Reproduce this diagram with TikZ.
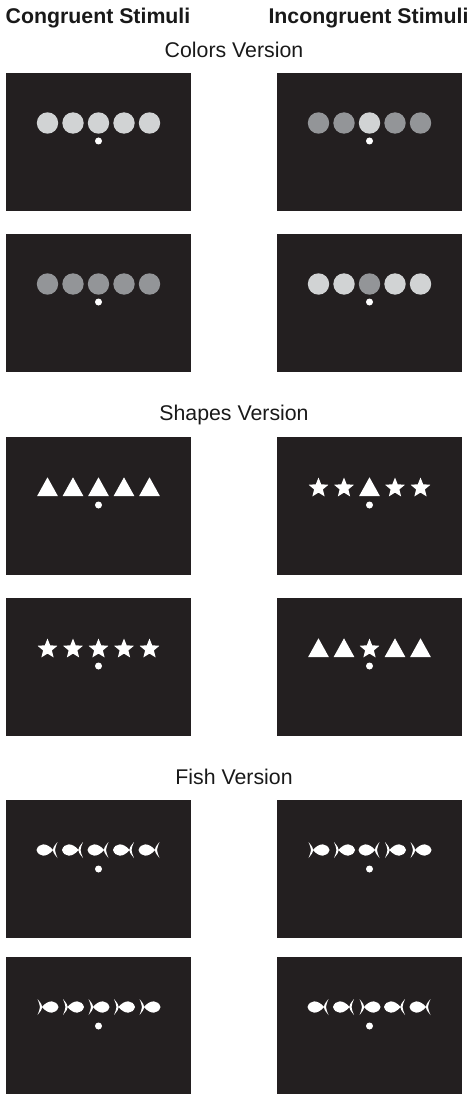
\documentclass[tikz,border=0pt]{standalone}
\usepackage{fontspec}
\setmainfont{Liberation Sans}
\definecolor{panelc}{HTML}{231F20}
\definecolor{lightg}{HTML}{D1D3D4}
\definecolor{darkg}{HTML}{939598}
\newcommand\StimPanel[2]{\fill[panelc] ({#1-92.5},{-#2}) rectangle ({#1+92.5},{-#2-138});}
\newcommand\StimDot[3]{\fill[white] (#1,{-#2-#3}) circle (3.5);}
% cx, top, flank colour, middle colour
\newcommand\CircleRow[4]{%
  \foreach \k in {-2,-1,1,2} {\fill[#3] ({#1+\k*25.5},{-#2-50}) circle (10.7);}
  \fill[#4] (#1,{-#2-50}) circle (10.7);
  \StimDot{#1}{#2}{68}}
% cx, top, flank pic, middle pic
\newcommand\ShapeRow[4]{%
  \foreach \k in {-2,-1,1,2} {\pic at ({#1+\k*25.5},{-#2}) {#3};}
  \pic at (#1,{-#2}) {#4};
  \StimDot{#1}{#2}{68}}
% cx, top, flank scale, middle scale
\newcommand\FishRow[4]{%
  \foreach \k in {-2,-1,1,2} {\pic[xscale=#3] at ({#1+\k*25.5},{-#2-50}) {fishp};}
  \pic[xscale=#4] at (#1,{-#2-50}) {fishp};
  \StimDot{#1}{#2}{69}}
\begin{document}
\begin{tikzpicture}[x=1pt,y=1pt,
  lbl/.style={font=\fontsize{21.3}{25}\selectfont, anchor=base, inner sep=0pt, text=black!90},
  hdr/.style={lbl, font=\fontsize{21.3}{25}\selectfont\bfseries},
  trip/.pic={\fill[white] (-10.35,-59) -- (10.35,-59) -- (0,-40.3) -- cycle;},
  starp/.pic={\begin{scope}[shift={(0,-51)}]
     \fill[white] (90:10.4) -- (126:4.6) -- (162:10.4) -- (198:4.6) -- (234:10.4) -- (270:4.6)
       -- (306:10.4) -- (342:4.6) -- (18:10.4) -- (54:4.6) -- cycle;\end{scope}},
  fishp/.pic={\fill[white] (-11,0) .. controls (-9,7) and (-1,8) .. (5.5,0)
       .. controls (-1,-8) and (-9,-7) .. (-11,0) -- cycle;
     \fill[white] (10,8) .. controls (3.6,0) .. (10,-8)
       .. controls (6.8,0) .. (10,8) -- cycle;}
  ]
\useasboundingbox (0,0) rectangle (470,-1094);
\node[hdr] (hcong) at (98,-23.5) {Congruent Stimuli};
\node[hdr] (hincong) at (368.5,-23.5) {Incongruent Stimuli};
\node[lbl] (vcol) at (234,-57.5) {Colors Version};
\node[lbl] (vshape) at (234,-420.5) {Shapes Version};
\node[lbl] (vfish) at (234,-784.5) {Fish Version};
% panels
\foreach \t in {73,234,437,598,800,957} {\StimPanel{98.5}{\t}\StimPanel{369.5}{\t}}
% colours
\CircleRow{98.5}{73}{lightg}{lightg}
\CircleRow{369.5}{73}{darkg}{lightg}
\CircleRow{98.5}{234}{darkg}{darkg}
\CircleRow{369.5}{234}{lightg}{darkg}
% shapes
\ShapeRow{98.5}{437}{trip}{trip}
\ShapeRow{369.5}{437}{starp}{trip}
\ShapeRow{98.5}{598}{starp}{starp}
\ShapeRow{369.5}{598}{trip}{starp}
% fish
\FishRow{98.5}{800}{1}{1}
\FishRow{369.5}{800}{-1}{1}
\FishRow{98.5}{957}{-1}{-1}
\FishRow{369.5}{957}{1}{-1}
\end{tikzpicture}
\end{document}
